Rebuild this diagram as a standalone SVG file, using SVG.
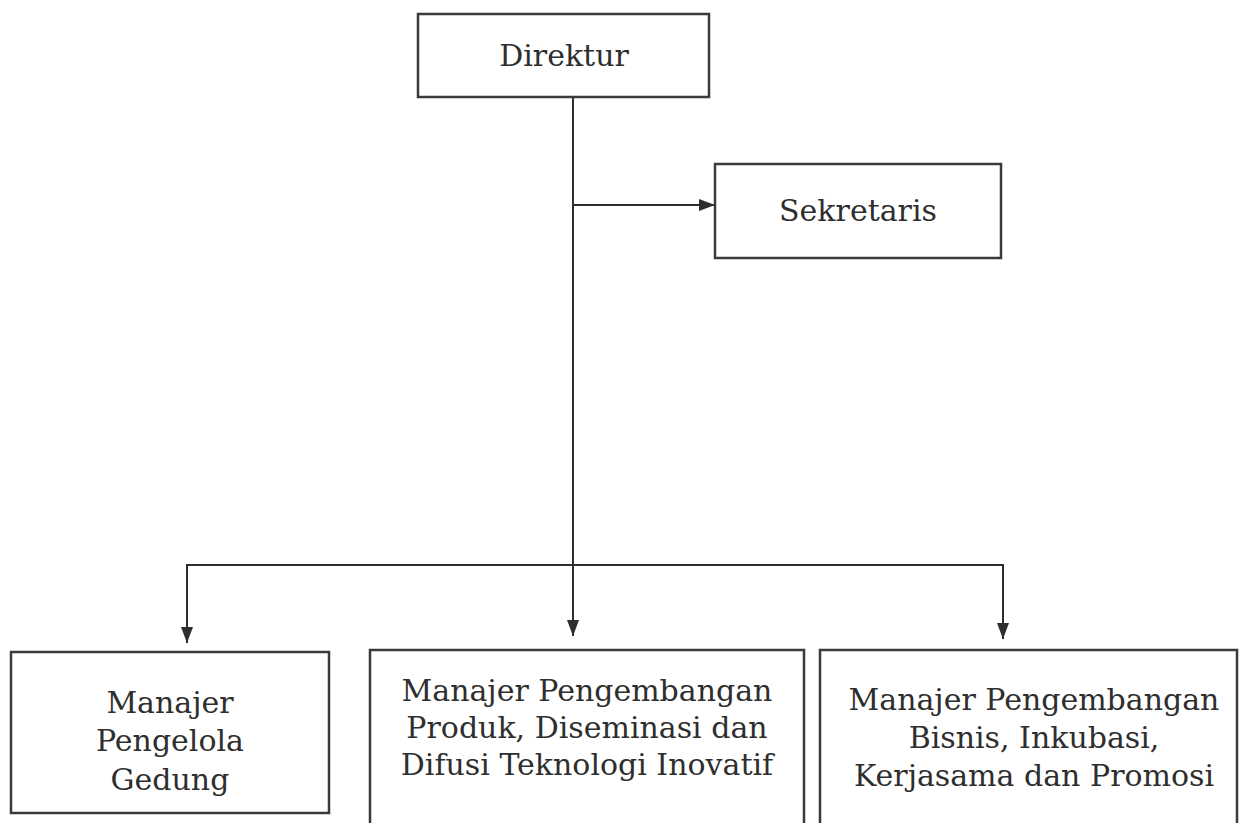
<svg xmlns="http://www.w3.org/2000/svg" width="1240" height="823" viewBox="0 0 1240 823">
<style>
.box{fill:#fff;stroke:#3a3a3a;stroke-width:2.5}
.lbl{font-family:"DejaVu Serif","Liberation Serif",serif;font-size:30px;fill:#2e2e2e;text-anchor:middle}
.con{fill:none;stroke:#2e2e2e;stroke-width:2}
</style>
<defs>
<marker id="arr" viewBox="0 0 16 12" refX="16" refY="6" markerWidth="16" markerHeight="12" markerUnits="userSpaceOnUse" orient="auto">
<path d="M0,0 L16,6 L0,12 z" fill="#2e2e2e"/>
</marker>
</defs>
<rect width="1240" height="823" fill="#fff"/>
<g id="connectors">
<line class="con" x1="573" y1="97" x2="573" y2="636" marker-end="url(#arr)"/>
<line class="con" x1="573" y1="205" x2="715" y2="205" marker-end="url(#arr)"/>
<line class="con" x1="187" y1="565" x2="1003" y2="565"/>
<line class="con" x1="187" y1="564" x2="187" y2="643" marker-end="url(#arr)"/>
<line class="con" x1="1003" y1="564" x2="1003" y2="639" marker-end="url(#arr)"/>
</g>
<g id="direktur">
<rect class="box" x="418" y="14" width="291" height="83"/>
<text class="lbl" x="564" y="66">Direktur</text>
</g>
<g id="sekretaris">
<rect class="box" x="715" y="164" width="286" height="94"/>
<text class="lbl" x="858" y="221">Sekretaris</text>
</g>
<g id="manajer-gedung">
<rect class="box" x="11" y="652" width="318" height="161"/>
<text class="lbl" x="170" y="713">Manajer</text>
<text class="lbl" x="170" y="751">Pengelola</text>
<text class="lbl" x="170" y="790">Gedung</text>
</g>
<g id="manajer-produk">
<rect class="box" x="370" y="650" width="434" height="190"/>
<text class="lbl" x="587" y="701">Manajer Pengembangan</text>
<text class="lbl" x="587" y="738">Produk, Diseminasi dan</text>
<text class="lbl" x="587" y="775">Difusi Teknologi Inovatif</text>
</g>
<g id="manajer-bisnis">
<rect class="box" x="820" y="650" width="417" height="190"/>
<text class="lbl" x="1034" y="710">Manajer Pengembangan</text>
<text class="lbl" x="1034" y="748">Bisnis, Inkubasi,</text>
<text class="lbl" x="1034" y="786">Kerjasama dan Promosi</text>
</g>
</svg>
